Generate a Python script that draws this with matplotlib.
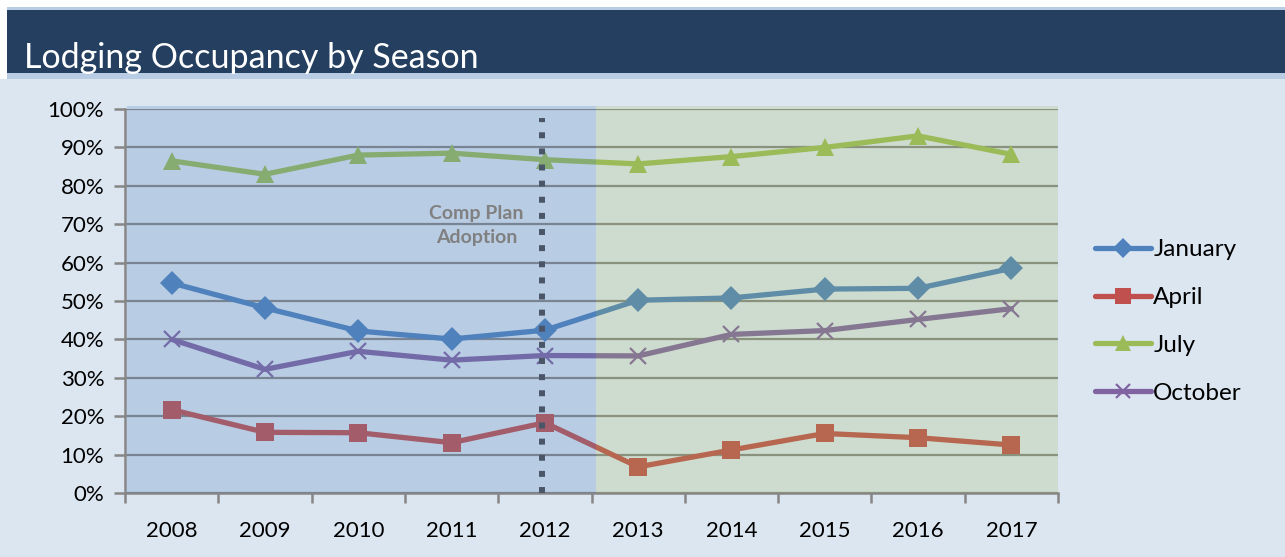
import matplotlib.pyplot as plt
from matplotlib.patches import Rectangle
from matplotlib.ticker import FuncFormatter

years = ['2008', '2009', '2010', '2011', '2012', '2013', '2014', '2015', '2016', '2017']
january = [54.7, 48.2, 42.2, 40.1, 42.4, 50.2, 50.8, 53.1, 53.3, 58.5]
april = [21.7, 15.8, 15.7, 13.1, 18.3, 6.8, 11.2, 15.5, 14.4, 12.5]
july = [86.5, 83.0, 88.0, 88.5, 86.8, 85.7, 87.6, 90.0, 93.0, 88.2]
october = [40.0, 32.2, 36.9, 34.6, 35.8, 35.7, 41.3, 42.3, 45.2, 48.0]
adoption_year = '2012'

BG = '#dce6f1'
NAVY = '#243f60'
STRIPE = '#b8cce4'
GRID = '#868686'

plt.rcParams['font.family'] = ['Lato', 'DejaVu Sans']

fig = plt.figure(figsize=(12.85, 5.57), dpi=100)
fig.patch.set_facecolor(BG)

# header banner (figure pixel coords -> fractions)
W, H = 1285, 557
def band(x0, y0, x1, y1, color):
    fig.patches.append(Rectangle((x0 / W, 1 - y1 / H), (x1 - x0) / W, (y1 - y0) / H,
                                 transform=fig.transFigure, facecolor=color,
                                 edgecolor='none', zorder=0))
band(0, 0, W, 7, 'white')
band(7, 7, W, 10, STRIPE)
band(7, 10, W, 73, NAVY)
band(7, 73, W, 79, STRIPE)
band(0, 7, 7, 79, 'white')
fig.text(24 / W, 1 - 58 / H, 'Lodging Occupancy by Season', color='white',
         fontsize=24.5, fontweight='normal', va='center', ha='left')

ax = fig.add_axes([125 / W, 1 - 493 / H, (1058 - 125) / W, (493 - 109) / H])
ax.set_facecolor(BG)
x = list(range(len(years)))

series = [
    ('January', january, '#4f81bd', 'D', 12),
    ('April', april, '#c0504d', 's', 13),
    ('July', july, '#9bbb59', '^', 13),
    ('October', october, '#8064a2', 'x', 12),
]
for name, vals, col, mk, ms in series:
    ax.plot(x, vals, color=col, lw=3.8, marker=mk, ms=ms, mew=1.6 if mk == 'x' else 0,
            mec=col, mfc=col, label=name, zorder=3, solid_capstyle='round')

# shaded periods, drawn over the lines so they tint them
split = 4.55
ax.add_patch(Rectangle((-0.48, 0), split + 0.48, 100.8, facecolor='#4f81bd', alpha=0.25,
                       edgecolor='none', zorder=4, clip_on=False))
ax.add_patch(Rectangle((split, 0), 9.5 - split, 100.8, facecolor='#9bbb59', alpha=0.22,
                       edgecolor='none', zorder=4, clip_on=False))

adopt = years.index(adoption_year) - 0.03
ax.plot([adopt, adopt], [0, 97.7], color='#4a5668', lw=4.3, ls=(0, (1.0, 1.7)),
        dash_capstyle='butt', zorder=5)
ax.text(3.27, 69.7, 'Comp Plan\nAdoption', color='#808080', fontsize=14, fontweight='bold',
        ha='center', va='center', linespacing=1.5, zorder=6)

ax.set_xlim(-0.5, 9.5)
ax.set_ylim(0, 100)
ax.set_yticks(range(0, 101, 10))
ax.yaxis.set_major_formatter(FuncFormatter(lambda v, p: f'{v:.0f}%'))
ax.set_xticks(x)
ax.set_xticklabels(years)
ax.set_xticks([i - 0.5 for i in range(len(years) + 1)], minor=True)
ax.tick_params(axis='x', which='major', length=0, pad=20, labelsize=16)
ax.tick_params(axis='x', which='minor', length=7, width=1.8, color=GRID, direction='out')
ax.tick_params(axis='y', length=8, width=1.8, color=GRID, pad=7, labelsize=16)
ax.grid(axis='y', color=GRID, lw=1.6, zorder=1)
ax.set_axisbelow(True)
for s in ['top', 'right']:
    ax.spines[s].set_visible(False)
for s in ['left', 'bottom']:
    ax.spines[s].set_color(GRID)
    ax.spines[s].set_linewidth(1.8)
    ax.spines[s].set_zorder(2)

leg = fig.legend(loc='upper left', bbox_to_anchor=(1095 / W, 1 - 239 / H), frameon=False,
                 fontsize=17.5, handlelength=2.3, handletextpad=0.1, labelspacing=1.11,
                 markerscale=0.85, borderpad=0, borderaxespad=0)

fig.savefig('out.png', dpi=100, facecolor=fig.get_facecolor())
